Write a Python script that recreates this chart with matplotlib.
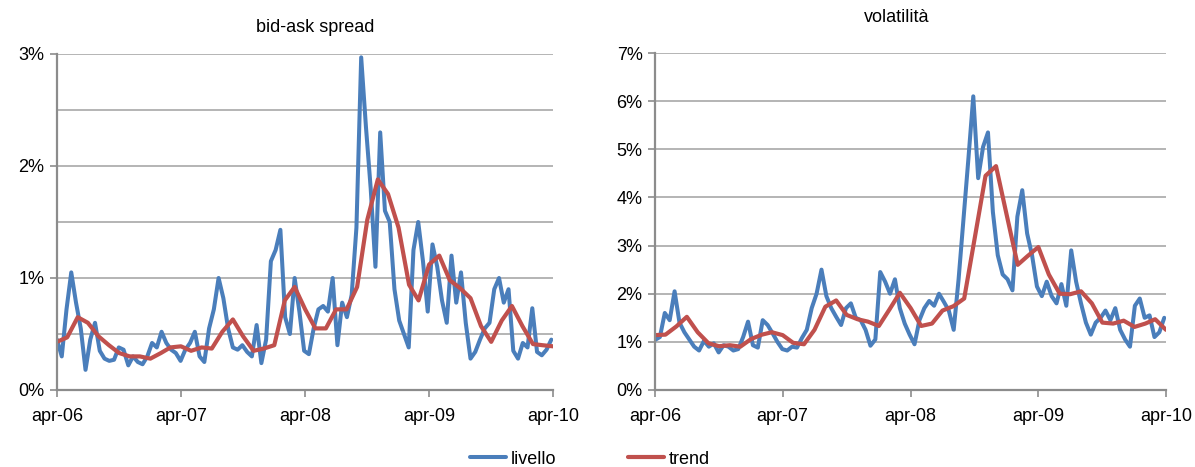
import matplotlib
matplotlib.use('Agg')
import matplotlib.pyplot as plt
import pandas as pd

plt.rcParams['font.family'] = ['Liberation Sans', 'DejaVu Sans']

# serie quindicinale (livello) e mensile (trend), valori in %
date_livello = pd.date_range('2006-04-01', periods=105, freq='14D')
date_trend = pd.date_range('2006-04-01', periods=49, freq='MS')

spread_livello = [
    0.45, 0.30, 0.72, 1.05, 0.78, 0.55, 0.18, 0.45, 0.60, 0.35,
    0.28, 0.26, 0.27, 0.38, 0.36, 0.22, 0.30, 0.25, 0.23, 0.30,
    0.42, 0.38, 0.52, 0.42, 0.36, 0.33, 0.26, 0.36, 0.42, 0.52,
    0.30, 0.25, 0.55, 0.72, 1.00, 0.82, 0.55, 0.38, 0.36, 0.40,
    0.34, 0.30, 0.58, 0.24, 0.45, 1.15, 1.25, 1.43, 0.65, 0.50,
    1.00, 0.70, 0.35, 0.32, 0.55, 0.72, 0.75, 0.70, 1.00, 0.40,
    0.78, 0.65, 0.85, 1.45, 2.97, 2.35, 1.80, 1.10, 2.30, 1.60,
    1.50, 0.90, 0.62, 0.50, 0.38, 1.25, 1.50, 1.15, 0.70, 1.30,
    1.10, 0.80, 0.60, 1.20, 0.78, 1.05, 0.60, 0.28, 0.34, 0.45,
    0.55, 0.60, 0.90, 1.00, 0.78, 0.90, 0.35, 0.28, 0.42, 0.38,
    0.73, 0.34, 0.31, 0.36, 0.45]
spread_trend = [
    0.43, 0.47, 0.65, 0.60, 0.48, 0.40, 0.33, 0.30, 0.30, 0.28,
    0.33, 0.38, 0.39, 0.35, 0.38, 0.37, 0.52, 0.63, 0.48, 0.35,
    0.37, 0.40, 0.80, 0.92, 0.72, 0.55, 0.55, 0.72, 0.72, 0.92,
    1.52, 1.88, 1.75, 1.45, 0.94, 0.80, 1.12, 1.20, 0.98, 0.91,
    0.82, 0.57, 0.43, 0.62, 0.75, 0.57, 0.41, 0.40, 0.39]

vol_livello = [
    1.04, 1.10, 1.60, 1.45, 2.05, 1.40, 1.20, 1.05, 0.90, 0.82,
    1.02, 0.90, 0.97, 0.78, 0.93, 0.90, 0.82, 0.85, 1.10, 1.42,
    0.93, 0.88, 1.45, 1.35, 1.18, 1.00, 0.85, 0.82, 0.90, 0.88,
    1.08, 1.25, 1.70, 2.00, 2.50, 1.95, 1.70, 1.52, 1.35, 1.70,
    1.80, 1.50, 1.45, 1.25, 0.92, 1.05, 2.45, 2.25, 2.00, 2.30,
    1.70, 1.38, 1.15, 0.95, 1.45, 1.70, 1.85, 1.75, 2.00, 1.83,
    1.65, 1.25, 2.30, 3.55, 4.80, 6.10, 4.40, 5.05, 5.35, 3.70,
    2.80, 2.40, 2.30, 2.07, 3.60, 4.15, 3.25, 2.80, 2.15, 1.95,
    2.25, 1.95, 1.80, 2.20, 1.75, 2.90, 2.25, 1.80, 1.40, 1.15,
    1.40, 1.50, 1.65, 1.45, 1.70, 1.25, 1.05, 0.90, 1.75, 1.90,
    1.50, 1.55, 1.10, 1.20, 1.50]
vol_trend = [
    1.14, 1.15, 1.32, 1.52, 1.20, 0.97, 0.91, 0.93, 0.90, 1.06,
    1.15, 1.20, 1.14, 0.98, 0.95, 1.25, 1.73, 1.86, 1.56, 1.47,
    1.42, 1.33, 1.68, 2.02, 1.70, 1.33, 1.38, 1.65, 1.74, 1.90,
    3.15, 4.45, 4.65, 3.62, 2.60, 2.78, 2.97, 2.40, 2.00, 1.99,
    2.05, 1.80, 1.40, 1.38, 1.44, 1.31, 1.38, 1.47, 1.25]

xtick_date = pd.to_datetime(['2006-04-01', '2007-04-01', '2008-04-01', '2009-04-01', '2010-04-01'])
xtick_lab = ['apr-06', 'apr-07', 'apr-08', 'apr-09', 'apr-10']

blu = '#4a7ebb'
rosso = '#c0504d'
grigio = '#8c8c8c'

W, H = 1195, 467
fig = plt.figure(figsize=(W/100, H/100), dpi=100)
ax1 = fig.add_axes([57/W, 1-390/H, (553-57)/W, (390-54)/H])
ax2 = fig.add_axes([655/W, 1-390/H, (1166-655)/W, (390-53)/H])

def sistema(ax, ymax, passo):
    ax.set_xlim(xtick_date[0], xtick_date[-1])
    ax.set_ylim(0, ymax)
    ax.set_xticks(xtick_date)
    ax.set_xticklabels(xtick_lab)
    ax.set_yticks(range(0, ymax+1))
    ax.set_yticklabels(['%d%%' % v for v in range(0, ymax+1)])
    ax.set_yticks([v*passo for v in range(int(ymax/passo)+1)], minor=True)
    ax.grid(axis='y', which='both', color='#a0a0a0', lw=1.1)
    ax.set_axisbelow(True)
    for s in ['top', 'right']:
        ax.spines[s].set_visible(False)
    for s in ['left', 'bottom']:
        ax.spines[s].set_color(grigio)
        ax.spines[s].set_linewidth(1.6)
    ax.tick_params(axis='y', which='minor', length=0)
    ax.tick_params(axis='y', which='major', length=5, width=1.2, color=grigio,
                   labelsize=13, pad=4)
    ax.tick_params(axis='x', length=5, width=1.2, color=grigio, labelsize=13, pad=8)

stile = dict(solid_joinstyle='round', solid_capstyle='round')
ax1.plot(date_livello, spread_livello, color=blu, lw=2.9, label='livello', **stile)
ax1.plot(date_trend, spread_trend, color=rosso, lw=3.0, label='trend', **stile)
sistema(ax1, 3, 0.5)

ax2.plot(date_livello, vol_livello, color=blu, lw=2.9, **stile)
ax2.plot(date_trend, vol_trend, color=rosso, lw=3.0, **stile)
sistema(ax2, 7, 1)

fig.text(315/W, 1-27/H, 'bid-ask spread', ha='center', va='center', fontsize=13)
fig.text(897/W, 1-17/H, 'volatilità', ha='center', va='center', fontsize=13)

fig.legend(loc='center', bbox_to_anchor=(590/W, 1-459/H), ncol=2, frameon=False,
           fontsize=13, handlelength=2.0, handletextpad=0.25, columnspacing=4.0)

plt.savefig('out.png', dpi=100)
